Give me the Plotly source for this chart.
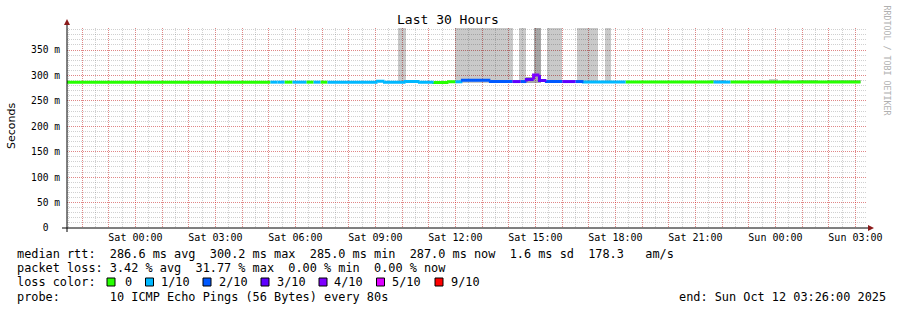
import plotly.graph_objects as go
import pandas as pd

# ---------------- data ----------------
BASE = pd.Timestamp("2025-10-11 00:00")          # Sat 00:00
START_H = -(2 + 34 / 60)                          # Fri 21:26
END_H = 27 + 26 / 60                              # Sun 03:26

# median rtt segments (hours relative to Sat 00:00)
seg_bounds = [-2.567, 5.06, 5.33, 5.59, 5.89, 6.41, 6.68, 6.94, 7.2, 9.08, 9.34,
              10.13, 10.65, 11.18, 11.74, 12.0, 12.26, 13.31, 14.14, 14.44, 14.66,
              14.93, 15.15, 15.41, 16.01, 16.5, 16.8, 18.38, 21.68, 22.31, 27.19]
seg_rtt = [286.8, 286.8, 286.8, 286.8, 286.8, 286.8, 286.8, 286.8, 286.8, 288.5,
           286.8, 288.0, 286.8, 286.0, 287.5, 287.5, 290.5, 288.0, 288.0, 288.0,
           292.0, 301.0, 290.0, 288.0, 288.0, 288.0, 287.0, 287.0, 287.0, 287.0]
seg_loss = [0, 1, 1, 0, 1, 0, 1, 0, 1, 1, 1, 1, 1, 0, 0, 1, 2, 2, 3, 2,
            3, 4, 3, 2, 3, 2, 1, 0, 1, 0]

loss_labels = ["0", "1/10", "2/10", "3/10", "4/10", "5/10", "9/10"]
loss_colors = ["#26ff00", "#00b8ff", "#0059ff", "#5e00ff", "#7e00ff", "#dd00ff", "#ff0000"]

# smoke (spread of individual pings)
smoke_start = [9.86, 12.0, 14.4, 14.93, 15.45, 16.54, 17.59, 14.66, 21.56, 22.95,
               23.74, 24.26, 24.79, 25.95]
smoke_end = [10.13, 14.14, 14.66, 15.19, 16.01, 17.33, 17.85, 14.93, 22.13, 23.51,
             24.08, 24.49, 25.61, 27.19]
smoke_lo = [285, 285, 285, 285, 285, 285, 285, 285, 285, 285, 285, 285, 285, 285]
smoke_hi = [400, 400, 400, 400, 400, 400, 400, 297, 291, 290, 293, 292, 292, 291]
smoke_dark = [0, 0, 0, 1, 0, 0, 0, 1, 0, 0, 0, 0, 0, 0]

y_ticks = [0, 50, 100, 150, 200, 250, 300, 350]
y_ticktext = ["0\u00a0\u00a0", "50 m", "100 m", "150 m", "200 m", "250 m", "300 m", "350 m"]

stats_lines = [
    "median rtt:  286.6 ms avg  300.2 ms max  285.0 ms min  287.0 ms now  1.6 ms sd  178.3   am/s",
    "packet loss: 3.42 % avg  31.77 % max  0.00 % min  0.00 % now",
    "loss color:",
    "probe:       10 ICMP Echo Pings (56 Bytes) every 80s",
]
end_text = "end: Sun Oct 12 03:26:00 2025"
title_text = "Last 30 Hours"

# ---------------- helpers ----------------
W, H = 897, 310
L, R, T, B = 67, 867, 28, 228


def t(h):
    return BASE + pd.Timedelta(hours=h)


def px(x):
    return (x - L) / (R - L)


def py(y):
    return (B - y) / (B - T)


MONO = "DejaVu Sans Mono"
fig = go.Figure()

# smoke bars
fig.add_trace(go.Bar(
    x=[t(s) for s in smoke_start],
    y=[hi - lo for hi, lo in zip(smoke_hi, smoke_lo)],
    base=smoke_lo,
    width=[(e - s) * 3600 * 1000 for s, e in zip(smoke_start, smoke_end)],
    offset=0,
    marker=dict(color=["rgba(60,60,60,0.45)" if d else "rgba(0,0,0,0.21)" for d in smoke_dark],
                line=dict(width=0)),
    showlegend=False, hoverinfo="skip",
))

# median line, coloured by loss
for lvl in range(len(loss_colors)):
    xs, ys = [], []
    for i in range(len(seg_rtt)):
        if seg_loss[i] != lvl:
            continue
        prev = seg_rtt[i - 1] if i > 0 else seg_rtt[i]
        xs += [t(seg_bounds[i]), t(seg_bounds[i]), t(seg_bounds[i + 1]), None]
        ys += [prev, seg_rtt[i], seg_rtt[i], None]
    if xs:
        fig.add_trace(go.Scatter(x=xs, y=ys, mode="lines",
                                 line=dict(color=loss_colors[lvl], width=3),
                                 showlegend=False, hoverinfo="skip"))

# x ticks: every hour, labelled every 3 hours
first = int(pd.Timestamp.ceil(t(START_H), "h").value)
hours = pd.date_range(t(START_H).ceil("h"), t(END_H), freq="h")
xt_text = []
for hts in hours:
    if hts.hour % 3 == 0:
        xt_text.append(hts.strftime("%a %H:%M"))
    else:
        xt_text.append("")

RED_GRID = "rgba(255,0,0,0.35)"
GRAY_GRID = "rgba(120,120,120,0.35)"

fig.update_layout(
    width=W, height=H, autosize=False,
    margin=dict(l=L, r=W - R, t=T, b=H - B, pad=0),
    paper_bgcolor="white", plot_bgcolor="white",
    barmode="overlay", bargap=0,
    xaxis=dict(
        type="date", range=[t(START_H), t(END_H)],
        tickmode="array", tickvals=list(hours), ticktext=xt_text,
        showgrid=True, gridcolor=RED_GRID, griddash="1px,1px", gridwidth=1,
        ticks="", showline=False, zeroline=False,
        tickfont=dict(family=MONO, size=10, color="#000"),
        ticklabelstandoff=2,
        minor=dict(tickmode="linear", tick0=t(START_H).ceil("h"), dtick=1800000,
                   showgrid=True, gridcolor=GRAY_GRID, griddash="1px,1px", ticks=""),
    ),
    yaxis=dict(
        range=[0, 393.3], tickmode="array", tickvals=y_ticks, ticktext=y_ticktext,
        showgrid=True, gridcolor=RED_GRID, griddash="1px,1px", gridwidth=1,
        ticks="", showline=False, zeroline=False,
        tickfont=dict(family=MONO, size=9.6, color="#000"),
        ticklabelstandoff=6,
        minor=dict(tickmode="linear", tick0=0, dtick=10,
                   showgrid=True, gridcolor=GRAY_GRID, griddash="1px,1px", ticks=""),
    ),
)

shapes = []
# axis lines
shapes.append(dict(type="line", xref="paper", yref="paper", x0=px(62), x1=px(869),
                   y0=py(228), y1=py(228), line=dict(color="#000", width=1)))
shapes.append(dict(type="line", xref="paper", yref="paper", x0=px(67), x1=px(67),
                   y0=py(232), y1=py(24), line=dict(color="#000", width=1)))
# arrows
shapes.append(dict(type="path", xref="paper", yref="paper",
                   path=f"M {px(868)} {py(225)} L {px(874)} {py(228)} L {px(868)} {py(231)} Z",
                   fillcolor="#8b1a1a", line=dict(width=0)))
shapes.append(dict(type="path", xref="paper", yref="paper",
                   path=f"M {px(64)} {py(25)} L {px(67)} {py(19)} L {px(70)} {py(25)} Z",
                   fillcolor="#8b1a1a", line=dict(width=0)))

# legend boxes
box_x = [107, 145.5, 203, 261, 319, 376.5, 435]
label_x = [123.5, 159.5, 217.5, 275.5, 333, 391, 449.5]
for bx, c in zip(box_x, loss_colors):
    shapes.append(dict(type="rect", xref="paper", yref="paper",
                       x0=px(bx), x1=px(bx + 8), y0=py(278), y1=py(286),
                       fillcolor=c, line=dict(color="#000", width=1)))
fig.update_layout(shapes=shapes)

ann = []
def nb(s):
    return s.replace(" ", "\u00a0")

line_y = [253.5, 268, 282, 296.5]
for s, yy in zip(stats_lines, line_y):
    ann.append(dict(text=nb(s), x=px(15.5), y=py(yy), xanchor="left", yanchor="middle"))
for lx, lab in zip(label_x, loss_labels):
    ann.append(dict(text=lab, x=px(lx), y=py(282), xanchor="left", yanchor="middle"))
ann.append(dict(text=nb(end_text), x=px(678), y=py(296.5), xanchor="left", yanchor="middle"))
for a in ann:
    a.update(xref="paper", yref="paper", showarrow=False, borderpad=0,
             font=dict(family=MONO, size=11.86, color="#000"))

ann.append(dict(text=title_text, x=px(447.5), y=py(20), xref="paper", yref="paper",
                xanchor="center", yanchor="middle", showarrow=False, borderpad=0,
                font=dict(family=MONO, size=13, color="#000")))
ann.append(dict(text="Seconds", x=px(11), y=py(126), xref="paper", yref="paper",
                xanchor="center", yanchor="middle", textangle=-90, showarrow=False, borderpad=0,
                font=dict(family="DejaVu Sans", size=11, color="#000")))
ann.append(dict(text=nb("RRDTOOL / TOBI OETIKER"), x=px(886.5), y=py(60), xref="paper", yref="paper",
                xanchor="center", yanchor="middle", textangle=90, showarrow=False, borderpad=0,
                font=dict(family=MONO, size=8.3, color="#b0b0b0")))
fig.update_layout(annotations=ann)

fig.write_html("out.html")
